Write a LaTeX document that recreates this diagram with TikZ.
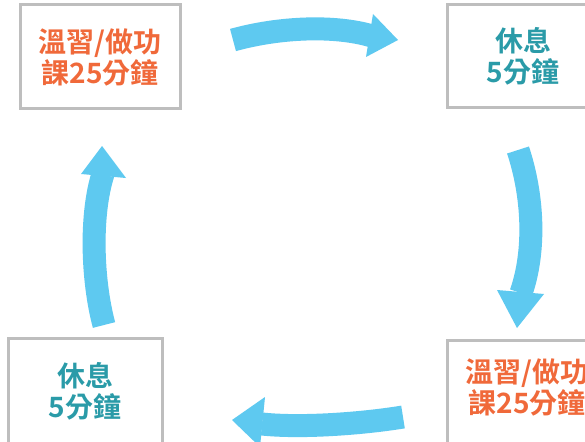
\documentclass[tikz,border=0pt]{standalone}
\usepackage{fontspec}
\newfontfamily\cjk{Noto Sans CJK TC}[BoldFont={Noto Sans CJK TC Bold}]
\definecolor{arrowblue}{RGB}{94,201,240}
\definecolor{boxgray}{RGB}{190,190,190}
\definecolor{studyorange}{RGB}{240,105,58}
\definecolor{restteal}{RGB}{42,155,168}
\tikzset{
  cyclebox/.style={draw=boxgray, line width=3pt, fill=white, inner sep=0pt},
  studytext/.style={text=studyorange, font=\cjk\bfseries\fontsize{28}{31}\selectfont, align=center, inner sep=0pt},
  resttext/.style={text=restteal, font=\cjk\bfseries\fontsize{28}{31}\selectfont, align=center, inner sep=0pt},
  shaft/.style={draw=arrowblue, line width=23pt},
  headtri/.style={fill=arrowblue}
}
\begin{document}
\begin{tikzpicture}[x=1pt,y=-1pt]
\useasboundingbox (0,0) rectangle (585,441);
\clip (0,0) rectangle (585,441);
\fill[white] (0,0) rectangle (585,441);
% boxes
\node[cyclebox, minimum width=160pt, minimum height=103pt] (tl) at (100,56.5) {};
\node[studytext] (tlt) at (100,57) {溫習/做功\\課25分鐘};
\node[cyclebox, minimum width=153pt, minimum height=102pt] (tr) at (523.5,56) {};
\node[resttext] (trt) at (523,56) {休息\\5分鐘};
\node[cyclebox, minimum width=154pt, minimum height=122pt] (bl) at (85,399) {};
\node[resttext] (blt) at (85,391) {休息\\5分鐘};
\node[cyclebox, minimum width=153pt, minimum height=120pt] (br) at (523.5,400) {};
\node[studytext] (brt) at (527,387) {溫習/做功\\課25分鐘};
% top arrow
\coordinate (ta0) at (233,40);
\coordinate (ta1) at (372,36);
\draw[shaft] (ta0) .. controls (280,27) and (335,25) .. (ta1);
\fill[headtri] (373,14) -- (398,40) -- (366,57) -- cycle;
% right arrow
\coordinate (ra0) at (518,150);
\coordinate (ra1) at (521,293);
\draw[shaft] (ra0) .. controls (533,195) and (536,250) .. (ra1);
\fill[headtri] (497,290) -- (517,328) -- (544,294) -- cycle;
% bottom arrow
\coordinate (ba0) at (403,417);
\coordinate (ba1) at (262,424);
\draw[shaft] (ba0) .. controls (360,424) and (300,428) .. (ba1);
\fill[headtri] (265,397) -- (232,420) -- (260,447) -- cycle;
% left arrow
\coordinate (la0) at (104,325);
\coordinate (la1) at (103,174);
\draw[shaft] (la0) .. controls (92,280) and (90,215) .. (la1);
\fill[headtri] (81,174) -- (102,146) -- (126,178) -- cycle;
\end{tikzpicture}
\end{document}
